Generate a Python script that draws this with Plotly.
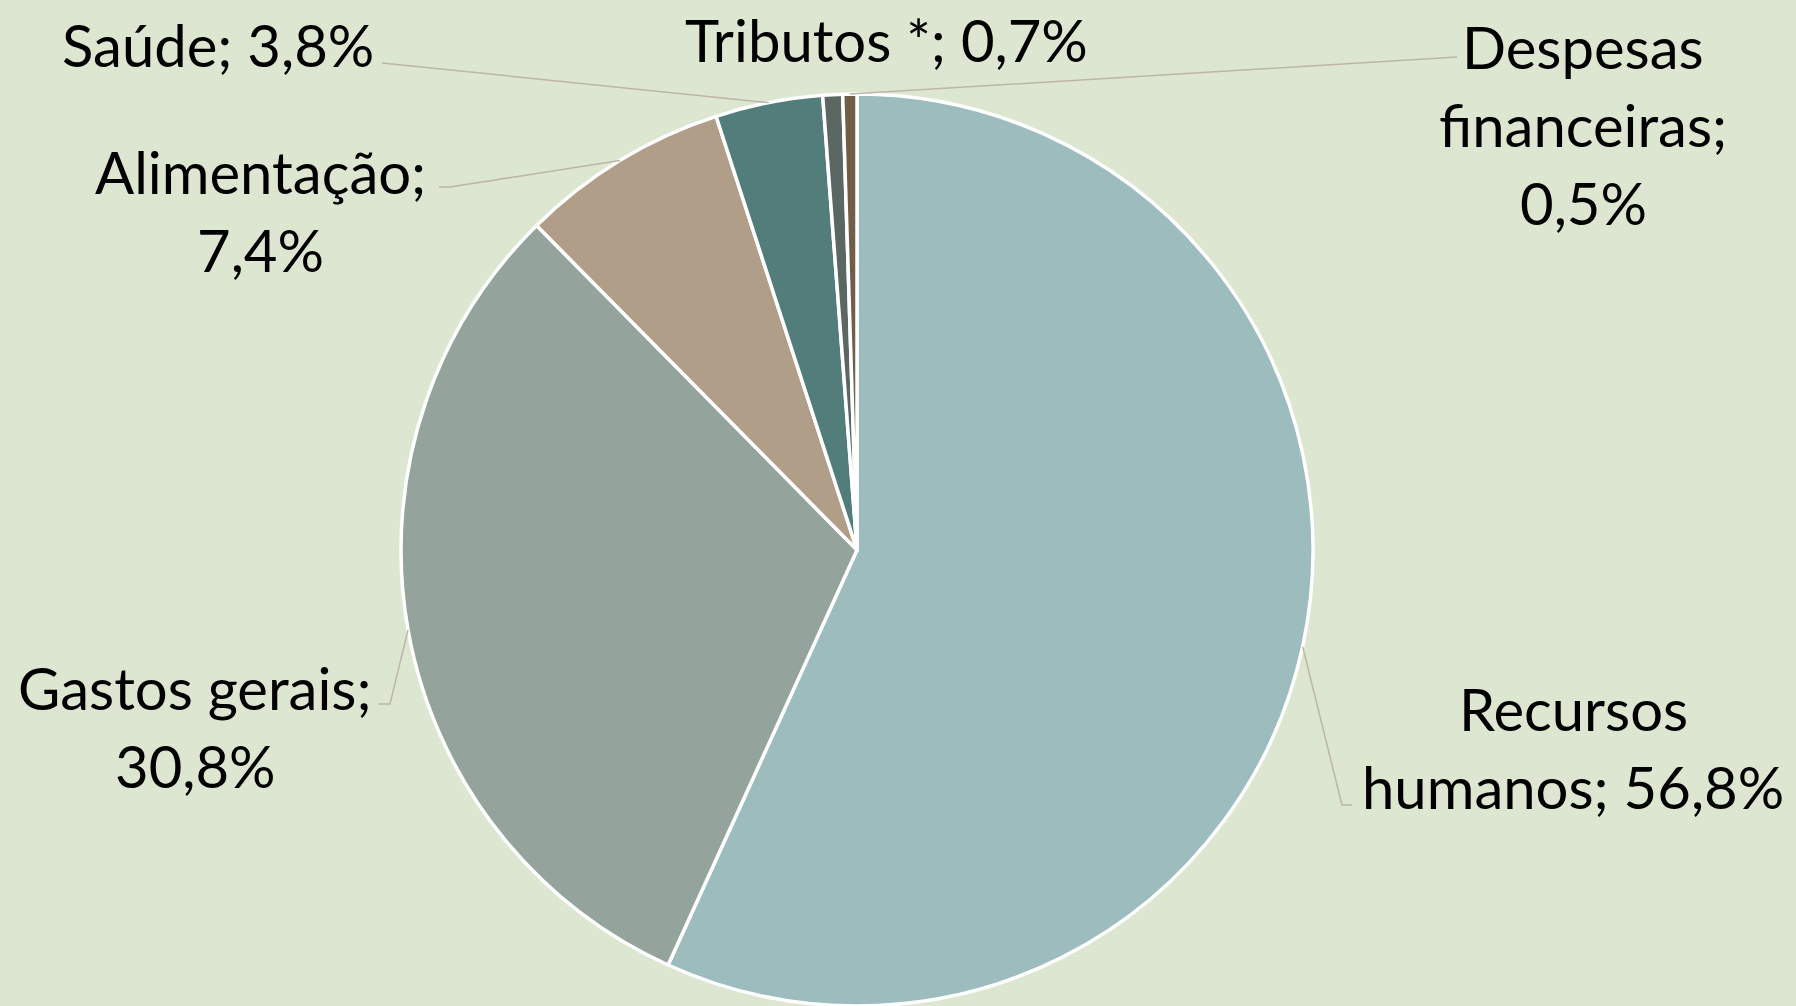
import math
import plotly.graph_objects as go

# ---- data ----
categories = ["Recursos humanos", "Gastos gerais", "Alimentação", "Saúde", "Tributos *", "Despesas financeiras"]
values = [56.8, 30.8, 7.4, 3.8, 0.7, 0.5]
slice_colors = ["#9DBCBD", "#94A39B", "#B09E89", "#527D7B", "#5B6762", "#705E4A"]
label_texts = ["Recursos<br>humanos; 56,8%", "Gastos gerais;<br>30,8%", "Alimentação;<br>7,4%",
               "Saúde; 3,8%", "Tributos *; 0,7%", "Despesas<br>financeiras;<br>0,5%"]

# ---- layout (pixels) ----
W, H = 1796, 1006
CX, CY, R = 857, 550, 456
BG = "#DCE6D0"
LEADER = "#BDB6A6"
LINE_H = 78
FONT = dict(family="Lato, 'Open Sans', sans-serif", size=58, color="#000000")

# label centre positions (px) and leader elbow points (px) per category
label_pos = [(1573, 747), (195, 726), (260, 211), (218, 44), (886, 40), (1583, 124)]
leader_pts = [
    [(1352, 805), (1342, 805)],
    [(378, 704), (390, 704)],
    [(439, 187), (450, 187)],
    [(382, 63)],
    None,
    [(1457, 57)],
]

def px(x):
    return min(1.0, max(0.0, x / W))

def py(y):
    return min(1.0, max(0.0, 1 - y / H))

fig = go.Figure(go.Pie(
    labels=categories,
    values=values,
    sort=False,
    direction="clockwise",
    rotation=0,
    marker=dict(colors=slice_colors, line=dict(color="#FFFFFF", width=3.5)),
    textinfo="none",
    hoverinfo="label+percent",
    showlegend=False,
    domain=dict(x=[px(CX - R), px(CX + R)], y=[py(CY + R), py(CY - R)]),
))

total = sum(values)
cum = 0.0
shapes = []
annotations = []
for i, v in enumerate(values):
    mid = (cum + v / 2) / total
    cum += v
    ang = 2 * math.pi * mid
    ex, ey = CX + R * math.sin(ang), CY - R * math.cos(ang)
    if leader_pts[i]:
        pts = leader_pts[i] + [(ex, ey)]
        path = "M " + " L ".join(f"{px(x)},{py(y)}" for x, y in pts)
        shapes.append(dict(type="path", xref="paper", yref="paper", path=path,
                           line=dict(color=LEADER, width=1.5)))
    lx, ly = label_pos[i]
    lines = label_texts[i].split("<br>")
    n = len(lines)
    for k, line in enumerate(lines):
        yy = ly + (k - (n - 1) / 2) * LINE_H
        annotations.append(dict(x=px(lx), y=py(yy), xref="paper", yref="paper",
                                text=line, showarrow=False, align="center",
                                xanchor="center", yanchor="middle", font=FONT))

fig.update_layout(
    width=W, height=H,
    margin=dict(l=0, r=0, t=0, b=0),
    paper_bgcolor=BG, plot_bgcolor=BG,
    shapes=shapes, annotations=annotations,
)

fig.write_html(
    "out.html",
    config={"displayModeBar": False},
    post_script="document.body.style.margin='0';document.body.style.background='%s';"
                "document.body.style.overflow='hidden';" % BG,
)
